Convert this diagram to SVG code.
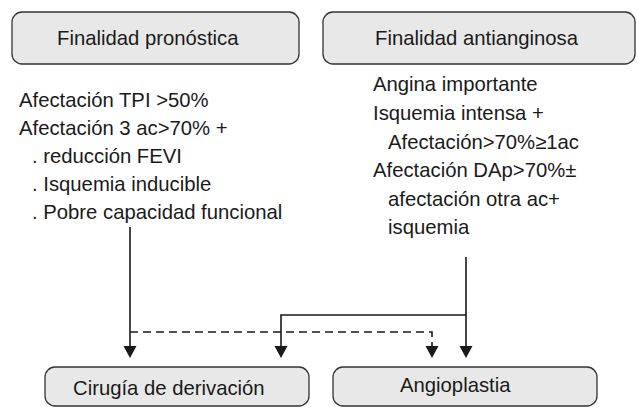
<svg xmlns="http://www.w3.org/2000/svg" width="638" height="410" viewBox="0 0 638 410">
<style>
.box{fill:#e8e8e8;stroke:#333;stroke-width:1.3}
.t{font-family:"Liberation Sans",Arial,sans-serif;font-size:20.3px;fill:#1a1a1a}
.c{fill:none;stroke:#1a1a1a;stroke-width:1.6}
.d{stroke-dasharray:8,5}
</style>
<defs>
<marker id="ah" markerUnits="userSpaceOnUse" markerWidth="13" markerHeight="14" refX="0" refY="6.5" orient="auto">
<path d="M0,0 L12,6.5 L0,13 z" fill="#1a1a1a"/>
</marker>
</defs>
<rect width="638" height="410" fill="#fff"/>
<g id="n-pronostica">
<rect class="box" x="12" y="12" width="287" height="52" rx="10"/>
<text class="t" x="57" y="45">Finalidad pronóstica</text>
</g>
<g id="n-antianginosa">
<rect class="box" x="323" y="12" width="312" height="52" rx="10"/>
<text class="t" x="375" y="45">Finalidad antianginosa</text>
</g>
<g id="n-criterios-pronostica">
<text class="t" x="19" y="107">Afectación TPI &gt;50%</text>
<text class="t" x="19" y="135">Afectación 3 ac&gt;70% +</text>
<text class="t" x="32" y="163">. reducción FEVI</text>
<text class="t" x="32" y="191">. Isquemia inducible</text>
<text class="t" x="32" y="219">. Pobre capacidad funcional</text>
</g>
<g id="n-criterios-antianginosa">
<text class="t" x="373" y="91">Angina importante</text>
<text class="t" x="373" y="120">Isquemia intensa +</text>
<text class="t" x="388" y="149">Afectación&gt;70%≥1ac</text>
<text class="t" x="373" y="177">Afectación DAp&gt;70%±</text>
<text class="t" x="388" y="206">afectación otra ac+</text>
<text class="t" x="388" y="234">isquemia</text>
</g>
<g id="n-cirugia">
<rect class="box" x="45" y="367" width="264" height="39" rx="10"/>
<text class="t" x="73" y="395">Cirugía de derivación</text>
</g>
<g id="n-angioplastia">
<rect class="box" x="333" y="367" width="264" height="39" rx="10"/>
<text class="t" x="400" y="392">Angioplastia</text>
</g>
<g id="connectors">
<path class="c" d="M130,227 V346" marker-end="url(#ah)"/>
<path class="c" d="M466,257 V346" marker-end="url(#ah)"/>
<path class="c" d="M466,315 H281 V346" marker-end="url(#ah)"/>
<path class="c d" d="M130,332 H432 V346" marker-end="url(#ah)"/>
</g>
</svg>
